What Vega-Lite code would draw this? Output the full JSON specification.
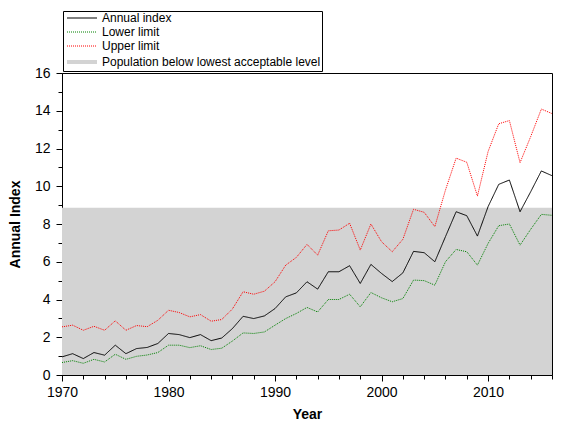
{
  "$schema": "https://vega.github.io/schema/vega-lite/v6.json",
  "autosize": {"type": "none"},
  "width": 490,
  "height": 302,
  "padding": {"left": 62, "top": 73, "right": 28, "bottom": 60},
  "background": "white",
  "layer": [
    {
      "data": {
        "values": [
          {"start": 1970, "end": 2016, "level": 8.86, "series": "Population below lowest acceptable level"}
        ]
      },
      "mark": {"type": "rect", "opacity": 1},
      "encoding": {
        "x": {
          "field": "start",
          "type": "quantitative",
          "scale": {"domain": [1970, 2016], "nice": false},
          "axis": {
            "title": "Year",
            "values": [1970, 1972, 1974, 1976, 1978, 1980, 1982, 1984, 1986, 1988, 1990, 1992, 1994, 1996, 1998, 2000, 2002, 2004, 2006, 2008, 2010, 2012, 2014, 2016],
            "format": "d",
            "labelExpr": "datum.value % 10 === 0 ? datum.label : ''",
            "tickSize": {"condition": {"test": "datum.value % 10 === 0", "value": 6}, "value": 4},
            "labelPadding": 4,
            "titlePadding": 8,
            "labelFlush": false
          }
        },
        "x2": {"field": "end"},
        "y": {
          "field": "level",
          "type": "quantitative",
          "scale": {"domain": [0, 16], "nice": false},
          "axis": {
            "title": "Annual Index",
            "values": [0, 0.5, 1, 1.5, 2, 2.5, 3, 3.5, 4, 4.5, 5, 5.5, 6, 6.5, 7, 7.5, 8, 8.5, 9, 9.5, 10, 10.5, 11, 11.5, 12, 12.5, 13, 13.5, 14, 14.5, 15, 15.5, 16],
            "format": "d",
            "labelExpr": "datum.value % 2 === 0 ? datum.label : ''",
            "tickSize": {"condition": {"test": "datum.value % 2 === 0", "value": 6}, "value": 4},
            "labelPadding": 6,
            "titlePadding": 12
          }
        },
        "y2": {"datum": 0},
        "color": {
          "field": "series",
          "type": "nominal",
          "scale": {
            "domain": ["Annual index", "Lower limit", "Upper limit", "Population below lowest acceptable level"],
            "range": ["black", "#008000", "#ff0000", "#d3d3d3"]
          },
          "legend": {"title": null}
        }
      }
    },
    {
      "data": {
        "values": [
          {"year": 1970, "Annual index": 0.96, "Lower limit": 0.66, "Upper limit": 2.55},
          {"year": 1971, "Annual index": 1.13, "Lower limit": 0.76, "Upper limit": 2.64},
          {"year": 1972, "Annual index": 0.87, "Lower limit": 0.62, "Upper limit": 2.37},
          {"year": 1973, "Annual index": 1.19, "Lower limit": 0.83, "Upper limit": 2.58},
          {"year": 1974, "Annual index": 1.05, "Lower limit": 0.69, "Upper limit": 2.37},
          {"year": 1975, "Annual index": 1.58, "Lower limit": 1.10, "Upper limit": 2.87},
          {"year": 1976, "Annual index": 1.13, "Lower limit": 0.83, "Upper limit": 2.37},
          {"year": 1977, "Annual index": 1.40, "Lower limit": 0.99, "Upper limit": 2.62},
          {"year": 1978, "Annual index": 1.46, "Lower limit": 1.06, "Upper limit": 2.56},
          {"year": 1979, "Annual index": 1.67, "Lower limit": 1.19, "Upper limit": 2.90},
          {"year": 1980, "Annual index": 2.20, "Lower limit": 1.58, "Upper limit": 3.43},
          {"year": 1981, "Annual index": 2.14, "Lower limit": 1.58, "Upper limit": 3.31},
          {"year": 1982, "Annual index": 1.98, "Lower limit": 1.45, "Upper limit": 3.08},
          {"year": 1983, "Annual index": 2.14, "Lower limit": 1.55, "Upper limit": 3.20},
          {"year": 1984, "Annual index": 1.82, "Lower limit": 1.35, "Upper limit": 2.85},
          {"year": 1985, "Annual index": 1.96, "Lower limit": 1.42, "Upper limit": 2.94},
          {"year": 1986, "Annual index": 2.46, "Lower limit": 1.80, "Upper limit": 3.50},
          {"year": 1987, "Annual index": 3.11, "Lower limit": 2.23, "Upper limit": 4.41},
          {"year": 1988, "Annual index": 2.99, "Lower limit": 2.20, "Upper limit": 4.28},
          {"year": 1989, "Annual index": 3.13, "Lower limit": 2.28, "Upper limit": 4.44},
          {"year": 1990, "Annual index": 3.52, "Lower limit": 2.64, "Upper limit": 4.94},
          {"year": 1991, "Annual index": 4.14, "Lower limit": 2.99, "Upper limit": 5.82},
          {"year": 1992, "Annual index": 4.35, "Lower limit": 3.26, "Upper limit": 6.23},
          {"year": 1993, "Annual index": 4.94, "Lower limit": 3.58, "Upper limit": 6.92},
          {"year": 1994, "Annual index": 4.55, "Lower limit": 3.34, "Upper limit": 6.35},
          {"year": 1995, "Annual index": 5.47, "Lower limit": 4.00, "Upper limit": 7.64},
          {"year": 1996, "Annual index": 5.47, "Lower limit": 4.00, "Upper limit": 7.68},
          {"year": 1997, "Annual index": 5.79, "Lower limit": 4.28, "Upper limit": 8.04},
          {"year": 1998, "Annual index": 4.85, "Lower limit": 3.61, "Upper limit": 6.62},
          {"year": 1999, "Annual index": 5.86, "Lower limit": 4.37, "Upper limit": 8.00},
          {"year": 2000, "Annual index": 5.38, "Lower limit": 4.09, "Upper limit": 7.06},
          {"year": 2001, "Annual index": 4.95, "Lower limit": 3.88, "Upper limit": 6.53},
          {"year": 2002, "Annual index": 5.41, "Lower limit": 4.05, "Upper limit": 7.19},
          {"year": 2003, "Annual index": 6.55, "Lower limit": 5.03, "Upper limit": 8.78},
          {"year": 2004, "Annual index": 6.48, "Lower limit": 5.00, "Upper limit": 8.62},
          {"year": 2005, "Annual index": 6.00, "Lower limit": 4.76, "Upper limit": 7.86},
          {"year": 2006, "Annual index": 7.33, "Lower limit": 6.00, "Upper limit": 9.80},
          {"year": 2007, "Annual index": 8.65, "Lower limit": 6.65, "Upper limit": 11.49},
          {"year": 2008, "Annual index": 8.44, "Lower limit": 6.53, "Upper limit": 11.27},
          {"year": 2009, "Annual index": 7.36, "Lower limit": 5.82, "Upper limit": 9.48},
          {"year": 2010, "Annual index": 8.92, "Lower limit": 6.97, "Upper limit": 11.84},
          {"year": 2011, "Annual index": 10.10, "Lower limit": 7.91, "Upper limit": 13.31},
          {"year": 2012, "Annual index": 10.33, "Lower limit": 8.00, "Upper limit": 13.48},
          {"year": 2013, "Annual index": 8.65, "Lower limit": 6.88, "Upper limit": 11.25},
          {"year": 2014, "Annual index": 9.71, "Lower limit": 7.72, "Upper limit": 12.63},
          {"year": 2015, "Annual index": 10.81, "Lower limit": 8.51, "Upper limit": 14.09},
          {"year": 2016, "Annual index": 10.56, "Lower limit": 8.46, "Upper limit": 13.85}
        ]
      },
      "transform": [
        {"fold": ["Annual index", "Lower limit", "Upper limit"], "as": ["series", "value"]}
      ],
      "mark": {"type": "line", "strokeWidth": 1, "clip": true},
      "encoding": {
        "x": {
          "field": "year",
          "type": "quantitative",
          "scale": {"domain": [1970, 2016], "nice": false},
          "axis": {
            "title": "Year",
            "values": [1970, 1972, 1974, 1976, 1978, 1980, 1982, 1984, 1986, 1988, 1990, 1992, 1994, 1996, 1998, 2000, 2002, 2004, 2006, 2008, 2010, 2012, 2014, 2016],
            "format": "d",
            "labelExpr": "datum.value % 10 === 0 ? datum.label : ''",
            "tickSize": {"condition": {"test": "datum.value % 10 === 0", "value": 6}, "value": 4},
            "labelPadding": 4,
            "titlePadding": 8,
            "labelFlush": false
          }
        },
        "y": {
          "field": "value",
          "type": "quantitative",
          "scale": {"domain": [0, 16], "nice": false},
          "axis": {
            "title": "Annual Index",
            "values": [0, 0.5, 1, 1.5, 2, 2.5, 3, 3.5, 4, 4.5, 5, 5.5, 6, 6.5, 7, 7.5, 8, 8.5, 9, 9.5, 10, 10.5, 11, 11.5, 12, 12.5, 13, 13.5, 14, 14.5, 15, 15.5, 16],
            "format": "d",
            "labelExpr": "datum.value % 2 === 0 ? datum.label : ''",
            "tickSize": {"condition": {"test": "datum.value % 2 === 0", "value": 6}, "value": 4},
            "labelPadding": 6,
            "titlePadding": 12
          }
        },
        "color": {
          "field": "series",
          "type": "nominal",
          "scale": {
            "domain": ["Annual index", "Lower limit", "Upper limit", "Population below lowest acceptable level"],
            "range": ["black", "#008000", "#ff0000", "#d3d3d3"]
          },
          "legend": {"title": null}
        },
        "strokeDash": {
          "field": "series",
          "type": "nominal",
          "scale": {
            "domain": ["Annual index", "Lower limit", "Upper limit", "Population below lowest acceptable level"],
            "range": [[1, 0], [1, 1], [1, 1], [1, 0]]
          },
          "legend": {"title": null}
        },
        "strokeWidth": {
          "field": "series",
          "type": "nominal",
          "scale": {
            "type": "ordinal",
            "domain": ["Annual index", "Lower limit", "Upper limit", "Population below lowest acceptable level"],
            "range": [1, 1, 1, 4]
          },
          "legend": {"title": null}
        }
      }
    }
  ],
  "config": {
    "font": "Liberation Sans",
    "view": {"stroke": "black", "strokeWidth": 1},
    "axis": {
      "grid": false,
      "domainColor": "black",
      "tickColor": "black",
      "labelColor": "black",
      "titleColor": "black",
      "labelFont": "Liberation Sans",
      "titleFont": "Liberation Sans",
      "labelFontSize": 14,
      "titleFontSize": 14,
      "titleFontWeight": "bold"
    },
    "legend": {
      "orient": "none",
      "legendX": 1,
      "legendY": -62,
      "strokeColor": "black",
      "fillColor": "white",
      "padding": 1,
      "symbolType": "M-3.75,0H3.75",
      "symbolSize": 64,
      "symbolOffset": 12,
      "labelFont": "Liberation Sans",
      "labelFontSize": 12,
      "labelColor": "black",
      "labelOffset": 14,
      "rowPadding": 2,
      "labelLimit": 400
    }
  }
}
